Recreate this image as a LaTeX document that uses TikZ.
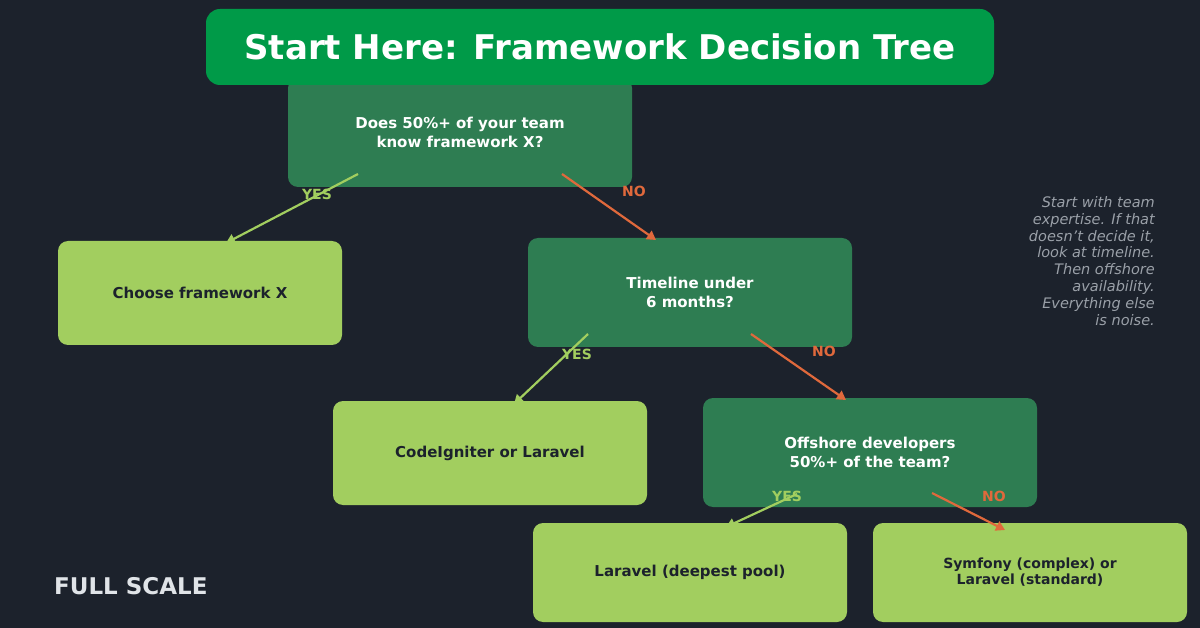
\documentclass[tikz,border=0pt]{standalone}
\usepackage{fontspec}
\setmainfont{DejaVu Sans}
\usetikzlibrary{arrows.meta}
\definecolor{bg}{HTML}{1C222C}
\definecolor{titleg}{HTML}{009A48}
\definecolor{qg}{HTML}{2E7D52}
\definecolor{ag}{HTML}{A2CE5F}
\definecolor{no}{HTML}{E0693C}
\definecolor{side}{HTML}{9AA0A8}
\begin{document}
\begin{tikzpicture}[x=1pt,y=-1pt,
  box/.style={rounded corners=10pt,inner sep=0pt,align=center,font=\fontsize{15}{19}\selectfont\bfseries},
  q/.style={box,fill=qg,text=white},
  a/.style={box,fill=ag,text=bg},
  yes/.style={draw=ag,line width=2.2pt,-{Triangle[length=9pt,width=10pt]}},
  non/.style={draw=no,line width=2.2pt,-{Triangle[length=9pt,width=10pt]}},
  ylab/.style={text=ag,font=\fontsize{14}{14}\selectfont\bfseries},
  nlab/.style={text=no,font=\fontsize{14}{14}\selectfont\bfseries}]
\fill[bg] (0,0) rectangle (1200,628);
\useasboundingbox (0,0) rectangle (1200,628);
\node[q,minimum width=344pt,minimum height=109pt] (q1) at (460,132.5) {Does 50\%+ of your team\\know framework X?};
\node[box,fill=titleg,text=white,minimum width=788pt,minimum height=76pt,rounded corners=14pt,font=\fontsize{34}{40}\selectfont\bfseries] (title) at (600,47) {Start Here: Framework Decision Tree};
\node[a,minimum width=284pt,minimum height=104pt] (a1) at (200,293) {Choose framework X};
\node[q,minimum width=324pt,minimum height=109pt] (q2) at (690,292.5) {Timeline under\\6 months?};
\node[a,minimum width=314pt,minimum height=104pt] (a2) at (490,453) {CodeIgniter or Laravel};
\node[q,minimum width=334pt,minimum height=109pt] (q3) at (870,452.5) {Offshore developers\\50\%+ of the team?};
\node[a,minimum width=314pt,minimum height=99pt] (a3) at (690,572.5) {Laravel (deepest pool)};
\node[a,minimum width=314pt,minimum height=99pt,font=\fontsize{14}{16}\selectfont\bfseries] (a4) at (1030,572.5) {Symfony (complex) or\\Laravel (standard)};
\coordinate (s1) at (358,174); \coordinate (e1) at (226,243);
\coordinate (s2) at (562,174); \coordinate (e2) at (656,240);
\coordinate (s3) at (588,334); \coordinate (e3) at (514,404);
\coordinate (s4) at (751,334); \coordinate (e4) at (846,400);
\coordinate (s5) at (797,494); \coordinate (e5) at (726,527);
\coordinate (s6) at (932,493); \coordinate (e6) at (1005,530);
\draw[yes] (s1) -- (e1); \draw[non] (s2) -- (e2);
\draw[yes] (s3) -- (e3); \draw[non] (s4) -- (e4);
\draw[yes] (s5) -- (e5); \draw[non] (s6) -- (e6);
\node[ylab] (l1) at (317,194) {YES};
\node[nlab] (l2) at (634,191) {NO};
\node[ylab] (l3) at (577,354) {YES};
\node[nlab] (l4) at (824,351) {NO};
\node[ylab] (l5) at (787,496) {YES};
\node[nlab] (l6) at (994,496) {NO};
\node[anchor=north east,align=right,text=side,inner sep=0pt,font=\fontsize{14.5}{16.9}\selectfont\itshape] (side) at (1155,196) {Start with team\\expertise. If that\\doesn't decide it,\\look at timeline.\\Then offshore\\availability.\\Everything else\\is noise.};
\node[anchor=west,inner sep=0pt,text={rgb,255:red,224;green,228;blue,232},font=\fontsize{23}{23}\selectfont\bfseries] (fs) at (54,586) {FULL SCALE};
\end{tikzpicture}
\end{document}
